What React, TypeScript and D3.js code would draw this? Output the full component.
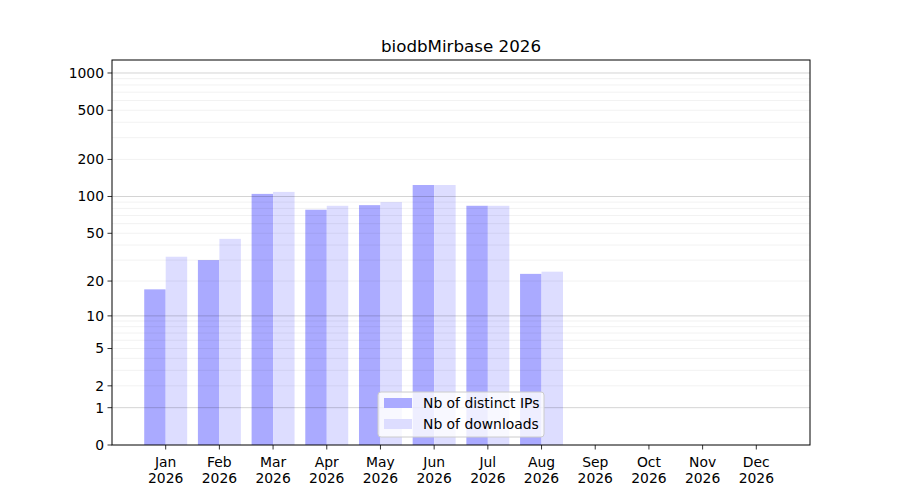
import React, { useEffect, useRef } from 'react';
import * as d3 from 'd3';

const months = ['Jan', 'Feb', 'Mar', 'Apr', 'May', 'Jun', 'Jul', 'Aug', 'Sep', 'Oct', 'Nov', 'Dec'];
const year = '2026';
const distinctIPs = [17, 30, 105, 78, 85, 124, 84, 23, 0, 0, 0, 0];
const downloads = [32, 45, 109, 84, 90, 124, 84, 24, 0, 0, 0, 0];
const yTicks = [0, 1, 2, 5, 10, 20, 50, 100, 200, 500, 1000];
const seriesNames = ['Nb of distinct IPs', 'Nb of downloads'];
const seriesColors = ['#aaaaff', '#ddddff'];

const App: React.FC = () => {
  const svgRef = useRef<SVGSVGElement>(null);

  useEffect(() => {
    document.body.style.margin = '0';
    const width = 900;
    const height = 500;
    const left = 112, right = 810, top = 60, bottom = 445;
    const font = 'DejaVu Sans, sans-serif';
    const fs = 13.9;

    const svg = d3.select(svgRef.current)
      .attr('width', width)
      .attr('height', height);
    svg.selectAll('*').remove();
    svg.append('rect').attr('width', width).attr('height', height).attr('fill', '#fff');

    // x: month index, y: symlog (log(1+x))
    const x = d3.scaleLinear().domain([-1, 12]).range([left, right]);
    const y = d3.scaleSymlog().constant(1).domain([0, 1273]).range([bottom, top]);
    const step = x(1) - x(0);
    const bw = step * 0.4;

    // bars
    const series = [distinctIPs, downloads];
    series.forEach((vals, s) => {
      svg.append('g').selectAll('rect')
        .data(vals)
        .enter().append('rect')
        .attr('x', (_d, i) => x(i) + (s === 0 ? -bw : 0))
        .attr('width', bw)
        .attr('y', d => y(d))
        .attr('height', d => bottom - y(d))
        .attr('fill', seriesColors[s]);
    });

    // grid lines (drawn above bars)
    const minor: number[] = [];
    [1, 10, 100, 1000].forEach(dec => {
      for (let k = 2; k <= 9; k++) {
        const v = dec * k;
        if (y(v) >= top) minor.push(v);
      }
    });
    svg.append('g').selectAll('line')
      .data(minor)
      .enter().append('line')
      .attr('x1', left).attr('x2', right)
      .attr('y1', d => y(d)).attr('y2', d => y(d))
      .attr('stroke', '#000').attr('stroke-opacity', 0.07).attr('stroke-width', 0.8);
    svg.append('g').selectAll('line')
      .data([1, 10, 100, 1000])
      .enter().append('line')
      .attr('x1', left).attr('x2', right)
      .attr('y1', d => y(d)).attr('y2', d => y(d))
      .attr('stroke', '#000').attr('stroke-opacity', 0.22).attr('stroke-width', 0.8);

    // frame
    svg.append('rect')
      .attr('x', left).attr('y', top)
      .attr('width', right - left).attr('height', bottom - top)
      .attr('fill', 'none').attr('stroke', '#000').attr('stroke-width', 1);

    // y axis
    const yAxis = svg.append('g');
    yTicks.forEach(t => {
      yAxis.append('line')
        .attr('x1', left - 4.5).attr('x2', left)
        .attr('y1', y(t)).attr('y2', y(t))
        .attr('stroke', '#000').attr('stroke-width', 0.8);
      yAxis.append('text')
        .attr('x', left - 8).attr('y', y(t))
        .attr('dy', '0.35em')
        .attr('text-anchor', 'end')
        .attr('font-family', font).attr('font-size', fs)
        .attr('fill', '#000')
        .text(String(t));
    });

    // x axis
    const xAxis = svg.append('g');
    months.forEach((m, i) => {
      xAxis.append('line')
        .attr('x1', x(i)).attr('x2', x(i))
        .attr('y1', bottom).attr('y2', bottom + 4.5)
        .attr('stroke', '#000').attr('stroke-width', 0.8);
      const t = xAxis.append('text')
        .attr('x', x(i)).attr('y', bottom + 22)
        .attr('text-anchor', 'middle')
        .attr('font-family', font).attr('font-size', fs)
        .attr('fill', '#000');
      t.append('tspan').attr('x', x(i)).text(m);
      t.append('tspan').attr('x', x(i)).attr('dy', 16).text(year);
    });

    // title
    svg.append('text')
      .attr('x', (left + right) / 2).attr('y', 52)
      .attr('text-anchor', 'middle')
      .attr('font-family', font).attr('font-size', 16.7)
      .attr('fill', '#000')
      .text('biodbMirbase 2026');

    // legend
    const lg = svg.append('g').attr('transform', 'translate(378,392)');
    lg.append('rect')
      .attr('width', 166).attr('height', 45)
      .attr('rx', 3)
      .attr('fill', '#fff').attr('fill-opacity', 0.8)
      .attr('stroke', '#ccc').attr('stroke-width', 1);
    seriesNames.forEach((name, i) => {
      lg.append('rect')
        .attr('x', 6).attr('y', 6 + i * 21)
        .attr('width', 28).attr('height', 10)
        .attr('fill', seriesColors[i]);
      lg.append('text')
        .attr('x', 45).attr('y', 11 + i * 21)
        .attr('dy', '0.35em')
        .attr('font-family', font).attr('font-size', fs)
        .attr('fill', '#000')
        .text(name);
    });
  }, []);

  return <svg ref={svgRef}></svg>;
};

export default App;
